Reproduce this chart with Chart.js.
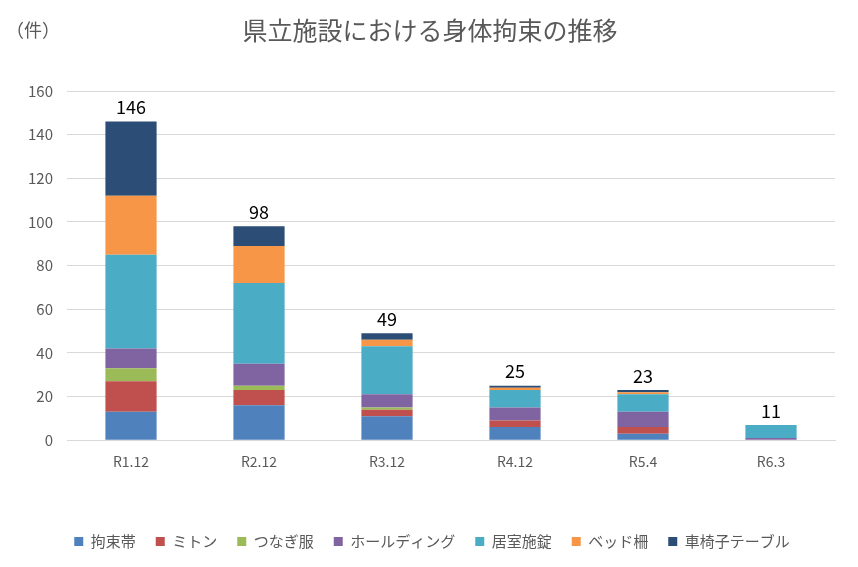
<!DOCTYPE html>
<html>
<head>
<meta charset="utf-8">
<script src="https://cdn.jsdelivr.net/npm/chart.js@4"></script>
<style>
html,body{margin:0;padding:0;background:#fff;}
#wrap{width:858px;height:567px;position:relative;}
</style>
</head>
<body>
<div id="wrap"><canvas id="c" width="858" height="567"></canvas></div>
<script>
const categories = ["R1.12", "R2.12", "R3.12", "R4.12", "R5.4", "R6.3"];
const seriesNames = ["拘束帯", "ミトン", "つなぎ服", "ホールディング", "居室施錠", "ベッド柵", "車椅子テーブル"];
const kousokutai = [13, 16, 11, 6, 3, 0];
const miton = [14, 7, 3, 3, 3, 0];
const tsunagi = [6, 2, 1, 0, 0, 0];
const holding = [9, 10, 6, 6, 7, 1];
const kyoshitsu = [43, 37, 22, 8, 8, 6];
const bedsaku = [27, 17, 3, 1, 1, 0];
const kurumaisu = [34, 9, 3, 1, 1, 0];
const totals = [146, 98, 49, 25, 23, 11];
const yTicks = [0, 20, 40, 60, 80, 100, 120, 140, 160];

const colors = ["#4F81BD", "#C0504D", "#9BBB59", "#8064A2", "#4BACC6", "#F79646", "#2C4D75"];
const seriesValues = [kousokutai, miton, tsunagi, holding, kyoshitsu, bedsaku, kurumaisu];

const FONT = "'Noto Sans CJK JP', 'Noto Sans', sans-serif";

const totalLabels = {
  id: 'totalLabels',
  afterDatasetsDraw(chart) {
    const ctx = chart.ctx;
    const y = chart.scales.y;
    const x = chart.scales.x;
    ctx.save();
    ctx.font = "18px " + FONT;
    ctx.fillStyle = "#000";
    ctx.textAlign = "center";
    ctx.textBaseline = "bottom";
    categories.forEach((c, i) => {
      let sum = 0;
      seriesValues.forEach(s => sum += s[i]);
      ctx.fillText(String(totals[i]), x.getPixelForValue(i), y.getPixelForValue(sum) - 5);
    });
    ctx.restore();
  }
};

const headerText = {
  id: 'headerText',
  afterDraw(chart) {
    const ctx = chart.ctx;
    ctx.save();
    ctx.fillStyle = "#595959";
    ctx.textBaseline = "middle";
    ctx.textAlign = "left";
    ctx.font = "18px " + FONT;
    ctx.fillText("（件）", 6, 30);
    ctx.textAlign = "center";
    ctx.font = "25px " + FONT;
    ctx.fillText("県立施設における身体拘束の推移", 430, 30);
    ctx.restore();
  }
};

new Chart(document.getElementById('c'), {
  type: 'bar',
  data: {
    labels: categories,
    datasets: seriesNames.map((n, k) => ({
      label: n,
      data: seriesValues[k],
      backgroundColor: colors[k],
      borderWidth: 0,
      categoryPercentage: 1.0,
      barPercentage: 0.4
    }))
  },
  options: {
    responsive: false,
    animation: false,
    devicePixelRatio: 1,
    layout: { padding: { top: 91, right: 23, left: 29, bottom: 8 } },
    scales: {
      x: {
        stacked: true,
        grid: { display: false, drawTicks: false },
        border: { color: "#D9D9D9" },
        ticks: { color: "#595959", font: { family: FONT, size: 14 }, padding: 13 },
        afterFit(scale) { scale.height += 31; }
      },
      y: {
        stacked: true,
        min: 0, max: 160,
        afterBuildTicks(scale) { scale.ticks = yTicks.map(v => ({ value: v })); },
        afterFit(scale) { scale.width = 38; },
        grid: { color: "#D9D9D9", drawTicks: false },
        border: { display: false },
        ticks: { color: "#595959", font: { family: FONT, size: 15 }, padding: 14 }
      }
    },
    plugins: {
      legend: {
        position: 'bottom',
        labels: {
          color: "#595959",
          font: { family: FONT, size: 15 },
          boxWidth: 9, boxHeight: 9,
          padding: 20
        }
      },
      title: { display: false },
      tooltip: { enabled: false }
    }
  },
  plugins: [totalLabels, headerText]
});
</script>
</body>
</html>
